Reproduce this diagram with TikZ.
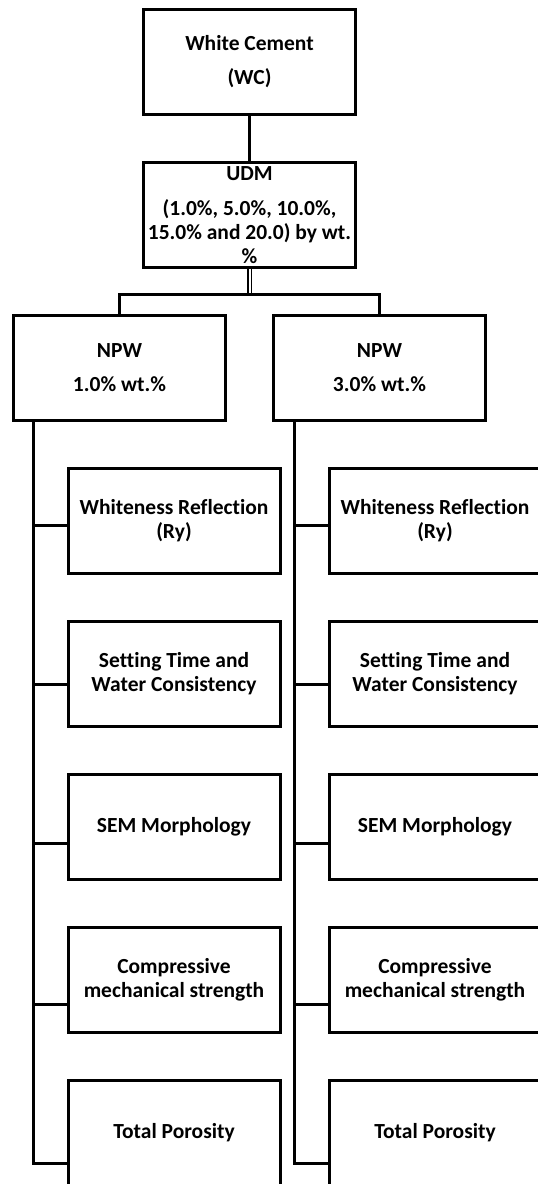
\documentclass[tikz,border=0pt]{standalone}
\usepackage{fontspec}
\setmainfont{Carlito}[Ligatures=NoCommon]
\usetikzlibrary{positioning}
\tikzset{
	node distance=153pt, % vertical pitch between the rows of boxes
	box/.style={draw, minimum width=212pt, minimum height=105pt, inner sep=0pt, align=center, font=\fontsize{21.5}{24}\selectfont\bfseries}, % every box of the chart
	twin/.style={double, double distance=2pt, line width=1.5pt}, % the doubled link under UDM
}
\begin{document}
\begin{tikzpicture}[line width=3pt]
	\fill[white] (0,0) rectangle (538pt,-1184pt);
	\useasboundingbox (0,0) rectangle (538pt,-1184pt);
			\node[box] (wc) at (249.5pt,-62pt) {White Cement\\[10pt](WC)};
			\node[box, below of=wc] (udm) {UDM\\[11pt](1.0\%, 5.0\%, 10.0\%,\\15.0\% and 20.0) by wt.\\\%};
			\node[box, below of=udm, xshift=-130pt] (npwa) {NPW\\[10pt]1.0\% wt.\%};
			\node[box, below of=udm, xshift=130pt] (npwb) {NPW\\[10pt]3.0\% wt.\%};
			% left column
			\node[box, below of=npwa, xshift=54.5pt] (a1) {Whiteness Reflection\\(Ry)};
			\node[box, below of=a1] (a2) {Setting Time and\\Water Consistency};
			\node[box, below of=a2] (a3) {SEM Morphology};
			\node[box, below of=a3] (a4) {Compressive\\mechanical strength};
			\node[box, below of=a4] (a5) {Total Porosity};
			% right column
			\node[box, below of=npwb, xshift=55.5pt] (b1) {Whiteness Reflection\\(Ry)};
			\node[box, below of=b1] (b2) {Setting Time and\\Water Consistency};
			\node[box, below of=b2] (b3) {SEM Morphology};
			\node[box, below of=b3] (b4) {Compressive\\mechanical strength};
			\node[box, below of=b4] (b5) {Total Porosity};
	\coordinate (split) at ([yshift=-25pt]udm.south);
	\coordinate (spa) at ([xshift=21pt]npwa.south west);
	\coordinate (spb) at ([xshift=22pt]npwb.south west);
	\draw (wc) -- (udm);
	\draw[twin] (udm.south) -- (split);
	\draw (npwa.north) |- (split) -| (npwb.north);
	\foreach \col in {a,b} {
		\foreach \i/\dy in {1/4,2/10,3/16,4/24,5/30}
			\coordinate (j\col\i) at ([yshift=-\dy pt]\col\i.west);
		\foreach \i in {1,...,4}
			\draw (sp\col |- j\col\i) -- (j\col\i);
		\draw (sp\col) |- (j\col5);
	}
\end{tikzpicture}
\end{document}
